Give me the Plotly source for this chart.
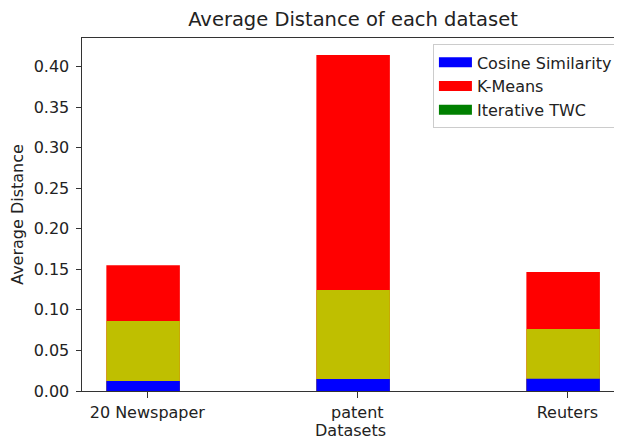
import plotly.graph_objects as go

categories = ["20 Newspaper", "patent", "Reuters"]
cosine_similarity = [0.0123, 0.0148, 0.0150]
iterative_twc = [0.0862, 0.1244, 0.0764]
k_means = [0.1550, 0.4142, 0.1466]
y_ticks = [0.00, 0.05, 0.10, 0.15, 0.20, 0.25, 0.30, 0.35, 0.40]

x = list(range(len(categories)))
W = 0.35
OFF = -0.195

fig = go.Figure()
fig.add_trace(go.Bar(x=x, y=k_means, width=W, offset=OFF, marker_color="#ff0000",
                     marker_line_width=0, name="K-Means", showlegend=False))
fig.add_trace(go.Bar(x=x, y=iterative_twc, width=W, offset=OFF, marker_color="#bfbf00",
                     marker_line_width=0, name="Iterative TWC", showlegend=False))
fig.add_trace(go.Bar(x=x, y=cosine_similarity, width=W, offset=OFF, marker_color="#0000ff",
                     marker_line_width=0, name="Cosine Similarity", showlegend=False))

# legend entries (patch-like swatches)
for nm, col in [("Cosine Similarity", "#0000ff"), ("K-Means", "#ff0000"),
                ("Iterative TWC", "#008000")]:
    fig.add_trace(go.Scatter(x=[None], y=[None], mode="lines", name=nm,
                             line=dict(color=col, width=10)))

font = "DejaVu Sans"
tc = "#222222"
fig.update_layout(
    width=614, height=432,
    barmode="overlay",
    paper_bgcolor="white", plot_bgcolor="white",
    margin=dict(l=74, r=3, t=29.5, b=49, pad=0),
    font=dict(family=font, size=16, color=tc),
    title=dict(text="Average Distance of each dataset", x=345 / 614, xref="container",
               xanchor="center", y=1 - 11 / 432, yref="container", yanchor="middle",
               font=dict(size=19.5, color=tc)),
    legend=dict(x=0.998, y=0.982, xanchor="right", yanchor="top",
                bordercolor="#cccccc", borderwidth=1, bgcolor="white",
                traceorder="normal",
                font=dict(size=16, color=tc), itemwidth=33),
    xaxis=dict(range=[-0.311, 2.246], tickvals=x, ticktext=categories,
               showline=True, mirror=True, linecolor="#333333", linewidth=1,
               ticks="outside", ticklen=5.5, tickcolor="#333333", showgrid=False,
               zeroline=False, ticklabelstandoff=1, automargin=False,
               title=dict(text="Datasets", standoff=6, font=dict(size=16))),
    yaxis=dict(range=[0, 0.4351], tickvals=y_ticks, tickformat=".2f",
               showline=True, mirror=True, linecolor="#333333", linewidth=1,
               ticks="outside", ticklen=5.5, tickcolor="#333333", showgrid=False,
               zeroline=False, ticklabelstandoff=3, automargin=False,
               title=dict(text="Average Distance", standoff=8, font=dict(size=16))),
)
fig.write_html("out.html")
